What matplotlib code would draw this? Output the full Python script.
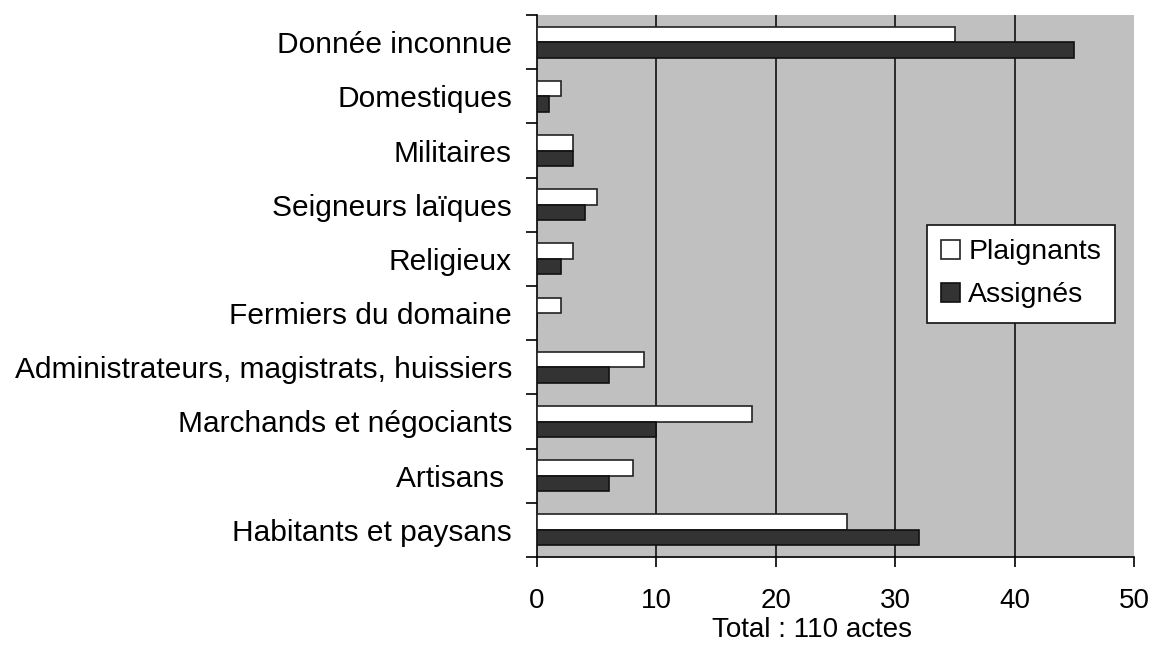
import numpy as np
import matplotlib.pyplot as plt

plt.rcParams['font.family'] = ['Liberation Sans', 'DejaVu Sans']

categories = ["Donnée inconnue", "Domestiques", "Militaires", "Seigneurs laïques",
              "Religieux", "Fermiers du domaine",
              "Administrateurs, magistrats, huissiers",
              "Marchands et négociants", "Artisans ", "Habitants et paysans"]
plaignants = [35, 2, 3, 5, 3, 2, 9, 18, 8, 26]
assignes = [45, 1, 3, 4, 2, 0, 6, 10, 6, 32]
xticks = [0, 10, 20, 30, 40, 50]

fig = plt.figure(figsize=(11.52, 6.45), dpi=100)
ax = fig.add_axes([537/1152, 1 - 557/645, (1134-537)/1152, (557-15)/645])
ax.set_facecolor('#c0c0c0')

n = len(categories)
y = np.arange(n)[::-1]
h = 0.285
ax.barh(y + h/2, plaignants, height=h, color='white', edgecolor='#222222', linewidth=1.2, label='Plaignants', zorder=3)
ax.barh(y - h/2, assignes, height=h, color='#333333', edgecolor='#111111', linewidth=1.2, label='Assignés', zorder=3)

ax.set_xlim(0, 50)
ax.set_ylim(-0.5, n - 0.5)
ax.set_xticks(xticks)
ax.set_xticklabels([str(t) for t in xticks], fontsize=20)
ax.tick_params(axis='x', direction='out', length=7, width=1.2, pad=15)
ax.set_yticks(y)
ax.set_yticklabels(categories, fontsize=21.5)
ax.tick_params(axis='y', which='major', length=0, pad=18)
ax.set_yticks(np.arange(n + 1) - 0.5, minor=True)
ax.tick_params(axis='y', which='minor', direction='out', length=8, width=1.2)

for v in xticks[1:-1]:
    ax.axvline(v, color='#111111', linewidth=1.2, zorder=2)

for s in ['top', 'right']:
    ax.spines[s].set_visible(False)
for s in ['left', 'bottom']:
    ax.spines[s].set_linewidth(1.2)

fig.text(812/1152, 1 - 630/645, "Total : 110 actes", ha='center', va='center', fontsize=20)

leg = ax.legend(loc='upper left', bbox_to_anchor=((927-537)/597, (557-225)/542),
                fontsize=20.5, frameon=True, fancybox=False, framealpha=1,
                handlelength=0.65, handleheight=0.65, handletextpad=0.3,
                borderpad=0.5, labelspacing=0.6, borderaxespad=0)
leg.get_frame().set_edgecolor('#111111')
leg.get_frame().set_linewidth(1.2)

fig.savefig('out.png', dpi=100)
